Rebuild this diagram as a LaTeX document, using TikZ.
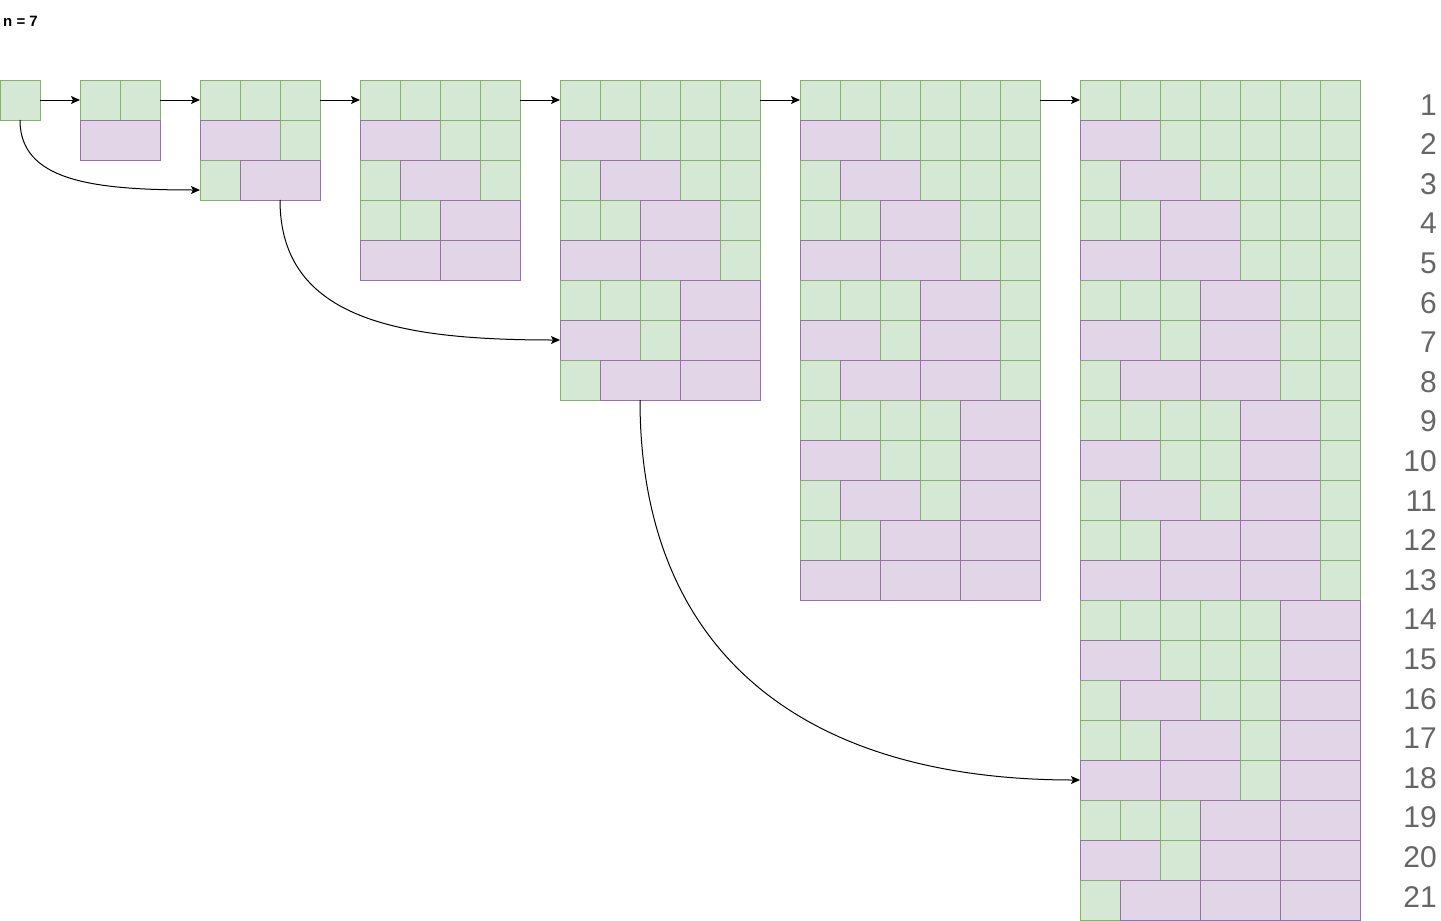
\documentclass[tikz,border=0pt]{standalone}
\usepackage{fontspec}
\setmainfont{Liberation Sans}
\usetikzlibrary{arrows.meta}

\definecolor{sqfill}{HTML}{D5E8D4}
\definecolor{sqline}{HTML}{82B366}
\definecolor{domfill}{HTML}{E1D5E7}
\definecolor{domline}{HTML}{9673A6}
\definecolor{numgray}{HTML}{666666}

% one row of a tiling: grid, left x, row, list of tiles (g = square, d = domino)
\newcount\tilecol
\newcommand{\tilerow}[4]{%
  \global\tilecol=0
  \foreach \t [count=\k] in #4 {
    \if\t g
      \node[sq] (t#1-#3-\k) at ({#2+40*\the\tilecol}, {40+40*#3}) {};
      \global\advance\tilecol by 1
    \else
      \node[dom] (t#1-#3-\k) at ({#2+40*\the\tilecol}, {40+40*#3}) {};
      \global\advance\tilecol by 2
    \fi
  }%
}

\begin{document}
\begin{tikzpicture}[x=1pt, y=-1pt,
    tile/.style={draw, line width=1pt, inner sep=0pt, outer sep=0pt,
      minimum height=40pt, anchor=north west},
    sq/.style={tile, fill=sqfill, draw=sqline, minimum width=40pt},
    dom/.style={tile, fill=domfill, draw=domline, minimum width=80pt},
    num/.style={text=numgray, font=\fontsize{30}{36}\selectfont, anchor=base east, inner sep=0pt},
    arr/.style={-{Stealth[length=9pt,width=8pt,inset=2pt]}, line width=1pt, black}]
  \useasboundingbox (0,0) rectangle (1441,921);

  % Tittel
  \node[anchor=base west, inner sep=0pt, font=\fontsize{15}{18}\selectfont\bfseries] (title) at (3,26) {n = 7};

  % n = 1
  \foreach \r/\tl in {1/{g}} {\tilerow{1}{0}{\r}{\tl}}

  % n = 2
  \foreach \r/\tl in {1/{g,g}, 2/{d}} {\tilerow{2}{80}{\r}{\tl}}

  % n = 3
  \foreach \r/\tl in {1/{g,g,g}, 2/{d,g}, 3/{g,d}} {\tilerow{3}{200}{\r}{\tl}}

  % n = 4
  \foreach \r/\tl in {1/{g,g,g,g}, 2/{d,g,g}, 3/{g,d,g}, 4/{g,g,d}, 5/{d,d}}
    {\tilerow{4}{360}{\r}{\tl}}

  % n = 5
  \foreach \r/\tl in {1/{g,g,g,g,g}, 2/{d,g,g,g}, 3/{g,d,g,g}, 4/{g,g,d,g},
      5/{d,d,g}, 6/{g,g,g,d}, 7/{d,g,d}, 8/{g,d,d}}
    {\tilerow{5}{560}{\r}{\tl}}

  % n = 6
  \foreach \r/\tl in {1/{g,g,g,g,g,g}, 2/{d,g,g,g,g}, 3/{g,d,g,g,g}, 4/{g,g,d,g,g},
      5/{d,d,g,g}, 6/{g,g,g,d,g}, 7/{d,g,d,g}, 8/{g,d,d,g}, 9/{g,g,g,g,d},
      10/{d,g,g,d}, 11/{g,d,g,d}, 12/{g,g,d,d}, 13/{d,d,d}}
    {\tilerow{6}{800}{\r}{\tl}}

  % n = 7
  \foreach \r/\tl in {1/{g,g,g,g,g,g,g}, 2/{d,g,g,g,g,g}, 3/{g,d,g,g,g,g}, 4/{g,g,d,g,g,g},
      5/{d,d,g,g,g}, 6/{g,g,g,d,g,g}, 7/{d,g,d,g,g}, 8/{g,d,d,g,g}, 9/{g,g,g,g,d,g},
      10/{d,g,g,d,g}, 11/{g,d,g,d,g}, 12/{g,g,d,d,g}, 13/{d,d,d,g},
      14/{g,g,g,g,g,d}, 15/{d,g,g,g,d}, 16/{g,d,g,g,d}, 17/{g,g,d,g,d},
      18/{d,d,g,d}, 19/{g,g,g,d,d}, 20/{d,g,d,d}, 21/{g,d,d,d}}
    {\tilerow{7}{1080}{\r}{\tl}}

  % Radnummer
  \foreach \r in {1,...,21}
    \node[num] (n\r) at (1437, {75.4+39.6*\r}) {\r};

  % Piler mellom rutenettene
  \draw[arr] (t1-1-1.east) -- (t2-1-1.west);
  \draw[arr] (t2-1-2.east) -- (t3-1-1.west);
  \draw[arr] (t3-1-3.east) -- (t4-1-1.west);
  \draw[arr] (t4-1-4.east) -- (t5-1-1.west);
  \draw[arr] (t5-1-5.east) -- (t6-1-1.west);
  \draw[arr] (t6-1-6.east) -- (t7-1-1.west);

  % Buede piler (domino lagt til)
  \draw[arr] (t1-1-1.south) .. controls +(0,60) and +(-110,0) .. ([yshift=-10pt]t3-3-1.west);
  \draw[arr] (t3-3-2.south) .. controls +(0,120) and +(-160,0) .. (t5-7-1.west);
  \draw[arr] (t5-8-2.south) .. controls +(0,250) and +(-280,0) .. (t7-18-1.west);
\end{tikzpicture}
\end{document}
